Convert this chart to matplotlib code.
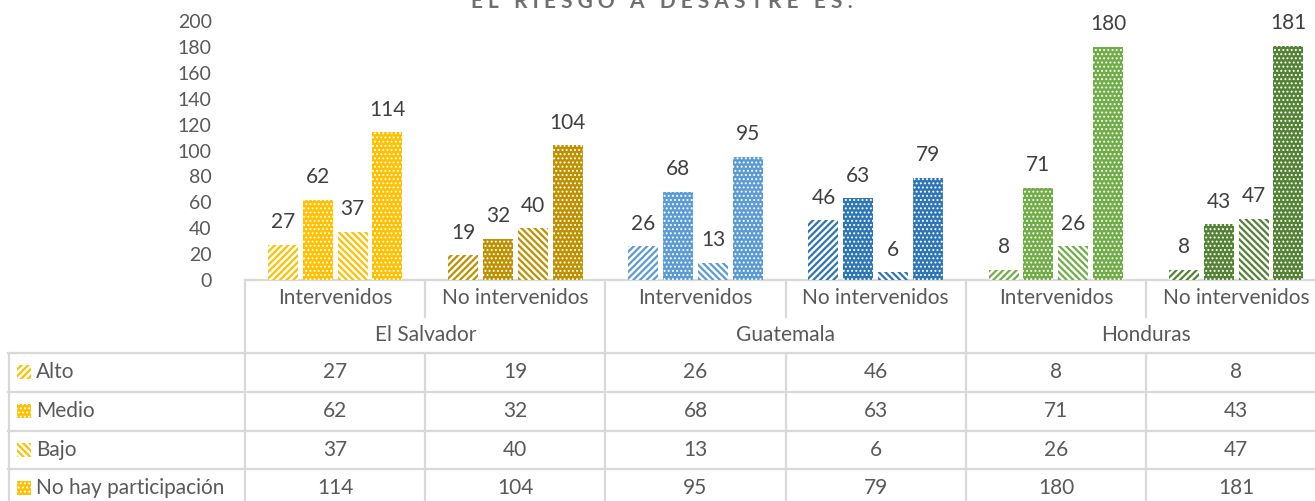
import matplotlib.pyplot as plt
from matplotlib.patches import Rectangle
from matplotlib.transforms import blended_transform_factory
import numpy as np

plt.rcParams['font.family'] = ['Lato', 'DejaVu Sans']

# datos
paises = ['El Salvador', 'Guatemala', 'Honduras']
grupos = ['Intervenidos', 'No intervenidos'] * 3
niveles = ['Alto', 'Medio', 'Bajo', 'No hay participación']
alto = [27, 19, 26, 46, 8, 8]
medio = [62, 32, 68, 63, 71, 43]
bajo = [37, 40, 13, 6, 26, 47]
no_hay = [114, 104, 95, 79, 180, 181]
valores = [alto, medio, bajo, no_hay]

colores = ['#FFC000', '#BF9000', '#5B9BD5', '#2E75B6', '#70AD47', '#548235']
tramas = ['/////', '....', '\\\\\\\\\\', '....']


def estilo(k, color):
    # puntos blancos sobre color, o rayas de color sobre blanco
    if tramas[k] == '....':
        return dict(facecolor=color, edgecolor='white', hatch=tramas[k], linewidth=0), 0.9
    return dict(facecolor='white', edgecolor=color, hatch=tramas[k], linewidth=0), 1.6


W, H = 1315, 501
fig = plt.figure(figsize=(W / 100, H / 100), dpi=100)

# ejes de barras (en pixeles de la figura)
x0, ancho_grupo = 245, 180.2
y0, y200 = 280, 21
ax = fig.add_axes([x0 / W, 1 - y0 / H, 6 * ancho_grupo / W, (y0 - y200) / H])
ax.set_xlim(-0.5, 5.5)
ax.set_ylim(0, 200)

x = np.arange(6)
ancho = 0.166
offsets = [-0.29, -0.097, 0.097, 0.29]
for k in range(4):
    for i in range(6):
        v = valores[k][i]
        kw, hlw = estilo(k, colores[i])
        with plt.rc_context({'hatch.linewidth': hlw}):
            b = ax.bar(x[i] + offsets[k], v, ancho, **kw)
        for p in b:
            if hasattr(p, 'set_hatch_linewidth'):
                p.set_hatch_linewidth(hlw)
        ax.annotate(str(v), (x[i] + offsets[k], v), xytext=(0, 12), textcoords='offset points',
                    ha='center', va='baseline', fontsize=15, color='#404040')

ax.set_yticks(range(0, 201, 20))
ax.tick_params(axis='y', length=0, labelsize=14, labelcolor='#595959', pad=24)
ax.set_xticks([])
for s in ['top', 'right', 'left', 'bottom']:
    ax.spines[s].set_visible(False)
ax.patch.set_alpha(0)

# capa de la tabla en pixeles
ov = fig.add_axes([0, 0, 1, 1], zorder=-1)
ov.set_xlim(0, W)
ov.set_ylim(H, 0)
ov.axis('off')
tr = blended_transform_factory(ax.transData, ov.transData)

gris = '#D9D9D9'
lw = 1.6
txt = '#595959'
ov.plot([-0.5, 5.6], [280, 280], color=gris, lw=lw, transform=tr)
for yl in [353, 392, 431, 469, 508]:
    ov.plot([8, W], [yl, yl], color=gris, lw=lw)
ov.plot([9, 9], [353, 508], color=gris, lw=lw)
for b in range(7):
    xb = b - 0.5
    if b % 2 == 0:
        ov.plot([xb, xb], [280, 508], color=gris, lw=lw, transform=tr)
    else:
        ov.plot([xb, xb], [280, 317], color=gris, lw=lw, transform=tr)
        ov.plot([xb, xb], [353, 508], color=gris, lw=lw, transform=tr)

for i in range(6):
    ov.text(x[i], 298, grupos[i], ha='center', va='center', fontsize=15, color=txt, transform=tr)
for j, p in enumerate(paises):
    ov.text(2 * j + 0.5, 335, p, ha='center', va='center', fontsize=15, color=txt, transform=tr)

filas_y = [372, 411, 450, 488]
for k in range(4):
    yc = filas_y[k]
    kw, hlw = estilo(k, colores[0])
    with plt.rc_context({'hatch.linewidth': hlw}):
        r = Rectangle((17, yc - 7), 14, 14, **kw)
    if hasattr(r, 'set_hatch_linewidth'):
        r.set_hatch_linewidth(hlw)
    ov.add_patch(r)
    ov.text(36, yc, niveles[k], ha='left', va='center', fontsize=15, color=txt)
    for i in range(6):
        ov.text(x[i], yc, str(valores[k][i]), ha='center', va='center', fontsize=15,
                color=txt, transform=tr)

# titulo (cortado en la parte superior, como en el original)
fig.text(662 / W, 1 - 8 / H, 'E L   R I E S G O   A   D E S A S T R E   E S :', ha='center',
         va='baseline', fontsize=15, fontweight='bold', color='#6F6F6F')

fig.savefig('out.png', dpi=100)
